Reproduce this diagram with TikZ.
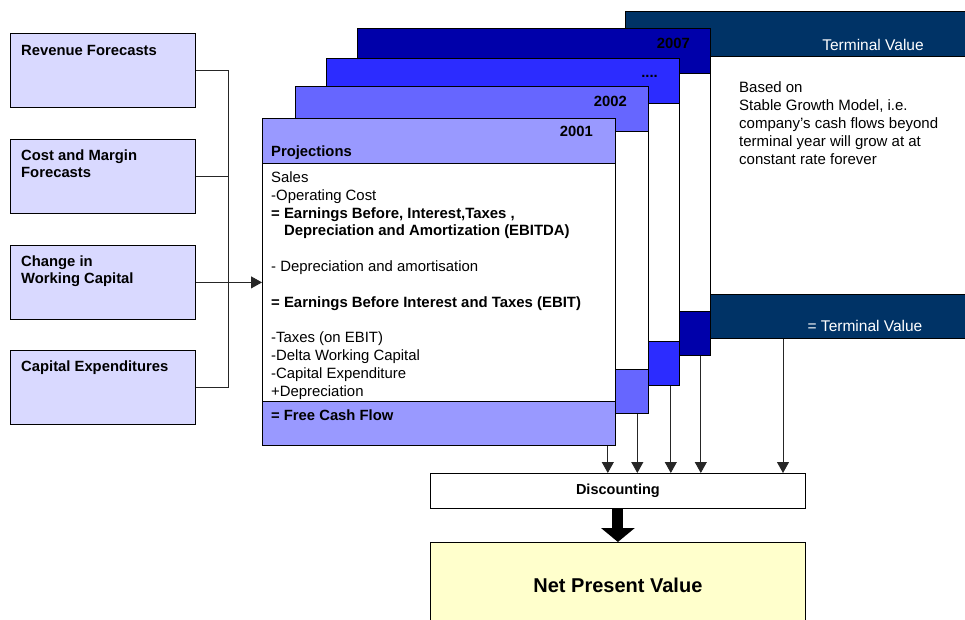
\documentclass[tikz,border=0pt]{standalone}
\usepackage{fontspec}
\setmainfont{Liberation Sans}
\usepackage{tikz}
\usetikzlibrary{arrows.meta}
\definecolor{dcf_lav}{RGB}{217,217,255}
\definecolor{dcf_y1}{RGB}{153,153,255}
\definecolor{dcf_y2}{RGB}{102,102,255}
\definecolor{dcf_y3}{RGB}{44,44,255}
\definecolor{dcf_y4}{RGB}{0,0,170}
\definecolor{dcf_tv}{RGB}{0,51,102}
\definecolor{dcf_npv}{RGB}{255,255,204}
\tikzstyle{inbox}=[rectangle,fill=dcf_lav,draw=black,line width=0.8pt,
  inner sep=0pt,minimum width=185pt,minimum height=74pt,anchor=north west]
\tikzstyle{yr}=[rectangle,fill=white,draw=black,line width=0.8pt,
  inner sep=0pt,minimum width=353pt,minimum height=327pt,anchor=north west]
\tikzstyle{yrhead}=[rectangle,draw=black,line width=0.8pt,
  inner sep=0pt,minimum width=353pt,minimum height=44.5pt,anchor=north west]
\tikzstyle{yrfoot}=[yrhead,anchor=south west]
\tikzstyle{txt}=[inner sep=0pt,anchor=base west,align=left,
  font=\fontsize{14.9}{17.8}\selectfont]
\tikzstyle{btxt}=[txt,font=\bfseries\fontsize{14.8}{17}\selectfont]
\tikzstyle{yrlbl}=[btxt,anchor=base east]
\tikzstyle{conn}=[draw=black!85,line width=0.9pt]
\tikzstyle{tip}=[conn,-{Triangle[length=11pt,width=12pt]}]
\tikzstyle{none}=[]

\begin{document}
\begin{tikzpicture}[x=1pt,y=-1pt]
        \useasboundingbox (0,0) rectangle (965,619);
        % inputs (multi-line texts sit on their last baseline)
        \node [style=inbox] (1) at (10,33) {};
        \node [style=inbox] (2) at (10,139) {};
        \node [style=inbox] (3) at (10,245) {};
        \node [style=inbox] (4) at (10,350) {};
        \node [style=btxt] (5) at (21,55) {Revenue Forecasts};
        \node [style=btxt] (6) at (21,177) {Cost and Margin\\Forecasts};
        \node [style=btxt] (7) at (21,283) {Change in\\Working Capital};
        \node [style=btxt] (8) at (21,371) {Capital Expenditures};
        % terminal value
        \node [style=yr,minimum width=350pt] (10) at (625,11) {};
        \node [style=yrhead,minimum width=350pt,fill=dcf_tv] (11) at (625,11) {};
        \node [style=yrfoot,minimum width=350pt,fill=dcf_tv] (12) at (10.south west) {};
        \node [style=txt,anchor=base,text=white,font=\fontsize{15.5}{18}\selectfont] (13) at (873,50) {Terminal Value};
        \node [style=txt,anchor=base,text=white,font=\fontsize{15.5}{18}\selectfont] (14) at (865,331) {= Terminal Value};
        \node [style=txt,font=\fontsize{15}{18}\selectfont] (15) at (739,164)
          {Based on\\Stable Growth Model, i.e.\\company’s cash flows beyond\\terminal year will grow at at\\constant rate forever};
        % 2007
        \node [style=yr] (20) at (357,28) {};
        \node [style=yrhead,fill=dcf_y4] (21) at (20.north west) {};
        \node [style=yrfoot,fill=dcf_y4] (22) at (20.south west) {};
        \node [style=yrlbl] (23) at (690,48) {2007};
        % ....
        \node [style=yr] (30) at (326,58) {};
        \node [style=yrhead,fill=dcf_y3] (31) at (30.north west) {};
        \node [style=yrfoot,fill=dcf_y3] (32) at (30.south west) {};
        \node [style=yrlbl] (33) at (658,77.5) {....};
        % 2002
        \node [style=yr] (40) at (294.5,86) {};
        \node [style=yrhead,fill=dcf_y2] (41) at (40.north west) {};
        \node [style=yrfoot,fill=dcf_y2] (42) at (40.south west) {};
        \node [style=yrlbl] (43) at (627,106) {2002};
        % 2001
        \node [style=yr] (50) at (262,118) {};
        \node [style=yrhead,fill=dcf_y1] (51) at (50.north west) {};
        \node [style=yrfoot,fill=dcf_y1] (52) at (50.south west) {};
        \node [style=yrlbl] (53) at (593,136) {2001};
        \node [style=btxt] (54) at (271,156) {Projections};
        \node [style=txt] (55) at (271,396) {Sales\\-Operating Cost\\
          \textbf{= Earnings Before, Interest,Taxes ,}\\
          \textbf{\phantom{= }Depreciation and Amortization (EBITDA)}\\[17.8pt]
          - Depreciation and amortisation\\[17.8pt]
          \textbf{= Earnings Before Interest and Taxes (EBIT)}\\[17.8pt]
          -Taxes (on EBIT)\\-Delta Working Capital\\-Capital Expenditure\\+Depreciation};
        \node [style=btxt] (56) at (271,420) {= Free Cash Flow};
        % discounting and value
        \node [style=inbox,fill=white,minimum width=375pt,minimum height=35pt,
          font=\bfseries\fontsize{14.5}{17}\selectfont] (60) at (430,473) {Discounting};
        \node [style=inbox,fill=dcf_npv,minimum width=375pt,minimum height=86pt,
          font=\bfseries\fontsize{20}{24}\selectfont] (61) at (430,542) {Net Present Value};
        % connectors
        \coordinate (0) at ([xshift=33pt]3.east);
        \draw [style=conn] (1.east) -| (0);
        \draw [style=conn] (2.east) -| (0);
        \draw [style=conn] (4.east) -| (0);
        \draw [style=tip] (3.east) -- (3.east -| 50.west);
        \coordinate (a1) at ([xshift=-8pt]50.south east);
        \coordinate (a2) at ([xshift=-11pt]40.south east);
        \coordinate (a3) at ([xshift=-9pt]30.south east);
        \coordinate (a4) at ([xshift=-10pt]20.south east);
        \coordinate (a5) at ([xshift=158pt]12.south west);
        \draw [style=tip] (a1) -- (a1 |- 60.north);
        \draw [style=tip] (a2) -- (a2 |- 60.north);
        \draw [style=tip] (a3) -- (a3 |- 60.north);
        \draw [style=tip] (a4) -- (a4 |- 60.north);
        \draw [style=tip] (a5) -- (a5 |- 60.north);
        \draw [line width=11pt,-{Triangle[length=14pt,width=33pt]}] (60.south) -- (61.north);
    \end{tikzpicture}
\end{document}
